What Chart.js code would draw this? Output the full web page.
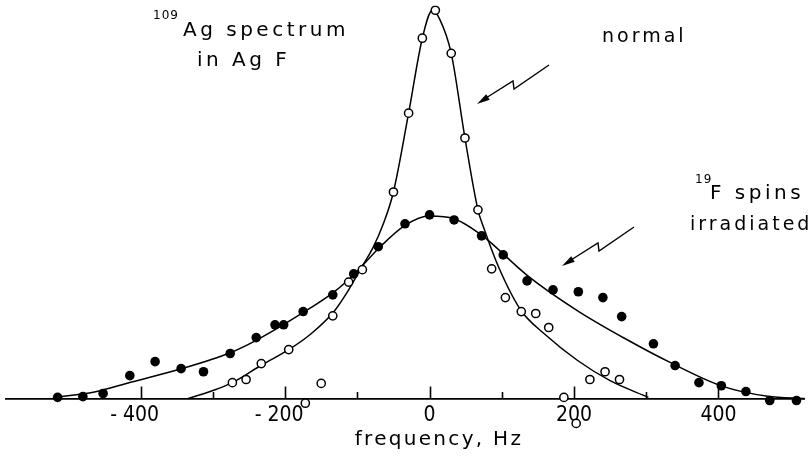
<!DOCTYPE html>
<html>
<head>
<meta charset="utf-8">
<script src="https://cdn.jsdelivr.net/npm/chart.js@4.4.1/dist/chart.umd.min.js"></script>
<style>
  html, body { margin: 0; padding: 0; background: #fff; }
  canvas { display: block; }
</style>
</head>
<body>
<canvas id="spectrum" width="810" height="462"></canvas>
<script>
// values: frequency in Hz, intensity scaled so the normal peak is ~100
const normalPointsHz = [-273, -254, -233, -195, -172, -150, -134, -112, -93, -50, -29, -10, 8, 30, 49, 67, 86, 105, 127, 147, 165, 186, 203, 222, 243, 263];
const normalPointsY  = [4.1, 4.9, 9.0, 12.6, -1.2, 3.9, 21.3, 30.0, 33.2, 53.2, 73.5, 92.8, 100, 88.9, 67.1, 48.6, 33.4, 26.0, 22.4, 21.9, 18.3, 0.3, -6.4, 4.9, 6.9, 4.9];

const irradPointsHz = [-515, -480, -452, -415, -380, -344, -313, -276, -240, -214, -202, -175, -134, -105, -71, -34, 0, 34, 72, 102, 135, 171, 206, 240, 266, 310, 340, 373, 404, 438, 471, 508];
const irradPointsY  = [0.3, 0.5, 1.3, 5.9, 9.5, 7.7, 6.9, 11.6, 15.7, 19.0, 19.0, 22.4, 26.7, 32.1, 39.1, 45.0, 47.3, 46.0, 41.9, 37.0, 30.3, 28.0, 27.5, 26.0, 21.1, 14.1, 8.5, 4.1, 3.3, 1.8, -0.5, -0.5];

// the drawn (fitted) curves
const normalCurveHz = [-334, -295, -273, -232, -195, -164, -132, -112, -92, -79, -64, -50, -29, -10, 4, 14, 30, 49, 67, 75, 96, 127, 160, 205, 250, 303];
const normalCurveY  = [0, 2.4, 4.1, 8.7, 12.6, 16.7, 22.5, 28.0, 34.5, 38.6, 45.0, 53.2, 73.5, 92.8, 100, 97.7, 88.9, 67.1, 48.6, 44.0, 33.7, 22.6, 16.5, 9.8, 4.6, 0.3];

const irradCurveHz = [-519, -464, -414, -345, -276, -242, -178, -134, -105, -71, -34, 0, 34, 70, 82, 136, 205, 273, 333, 405, 468, 520];
const irradCurveY  = [0.3, 1.7, 4.2, 7.6, 11.8, 14.8, 21.8, 27.2, 31.9, 38.6, 44.6, 47.0, 46.3, 42.4, 40.6, 31.6, 22.6, 15.2, 9.3, 3.2, 0.6, 0];

const majorTicks = [-400, -200, 0, 200, 400];
const tickLabels = ['- 400  ', '- 200  ', '0', '200', '400'];
const minorTicks = [-300, -100, 100, 300];

function pairs(xs, ys) {
  return xs.map((x, i) => ({ x: x, y: ys[i] }));
}

function bolt(ctx, tx, ty) {
  // lightning arrow, tip at (tx, ty)
  ctx.beginPath();
  ctx.moveTo(tx + 72, ty - 39);
  ctx.lineTo(tx + 37, ty - 15);
  ctx.lineTo(tx + 36, ty - 23);
  ctx.lineTo(tx + 9, ty - 6);
  ctx.stroke();
  const dx = -36, dy = 23, len = Math.hypot(dx, dy);
  const ux = dx / len, uy = dy / len;
  const bx = tx - ux * 13, by = ty - uy * 13;
  ctx.beginPath();
  ctx.moveTo(tx, ty);
  ctx.lineTo(bx - uy * 3.3, by + ux * 3.3);
  ctx.lineTo(bx + uy * 3.3, by - ux * 3.3);
  ctx.closePath();
  ctx.fill();
}

const decorations = {
  id: 'decorations',
  afterDraw(chart) {
    const ctx = chart.ctx;
    const xs = chart.scales.x;
    const y0 = chart.scales.y.getPixelForValue(0);
    ctx.save();
    ctx.strokeStyle = '#000';
    ctx.fillStyle = '#000';
    ctx.lineWidth = 1.6;
    majorTicks.forEach(v => {
      const px = Math.round(xs.getPixelForValue(v)) + 0.5;
      ctx.beginPath(); ctx.moveTo(px, y0); ctx.lineTo(px, y0 - 12); ctx.stroke();
    });
    minorTicks.forEach(v => {
      const px = Math.round(xs.getPixelForValue(v)) + 0.5;
      ctx.beginPath(); ctx.moveTo(px, y0); ctx.lineTo(px, y0 - 6.5); ctx.stroke();
    });

    ctx.lineWidth = 1.4;
    bolt(ctx, 477, 104);
    bolt(ctx, 562, 266);

    ctx.textAlign = 'left';
    ctx.textBaseline = 'alphabetic';
    ctx.letterSpacing = '1px';
    ctx.font = '12px "DejaVu Sans"';
    ctx.fillText('109', 153, 19);
    ctx.fillText('19', 695, 183);

    ctx.letterSpacing = '3.5px';
    ctx.font = '20px "DejaVu Sans"';
    ctx.fillText('Ag spectrum', 183, 36);
    ctx.fillText('in Ag F', 197, 66);
    ctx.fillText('F spins', 710, 199);
    ctx.letterSpacing = '3px';
    ctx.font = '19px "DejaVu Sans"';
    ctx.fillText('normal', 602, 42);
    ctx.fillText('irradiated', 690, 230);

    ctx.letterSpacing = '2.3px';
    ctx.font = '20px "DejaVu Sans"';
    ctx.textAlign = 'center';
    ctx.fillText('frequency, Hz', 439, 445);
    ctx.restore();
  }
};

new Chart(document.getElementById('spectrum'), {
  type: 'scatter',
  data: {
    datasets: [
      {
        label: 'normal',
        data: pairs(normalPointsHz, normalPointsY),
        pointRadius: 4.1,
        pointBackgroundColor: '#fff',
        pointBorderColor: '#000',
        pointBorderWidth: 1.5
      },
      {
        label: '19F spins irradiated',
        data: pairs(irradPointsHz, irradPointsY),
        pointRadius: 4.8,
        pointBackgroundColor: '#000',
        pointBorderColor: '#000',
        pointBorderWidth: 0
      },
      {
        label: 'normal fit',
        data: pairs(normalCurveHz, normalCurveY),
        showLine: true,
        pointRadius: 0,
        borderColor: '#000',
        borderWidth: 1.5,
        cubicInterpolationMode: 'monotone'
      },
      {
        label: 'irradiated fit',
        data: pairs(irradCurveHz, irradCurveY),
        showLine: true,
        pointRadius: 0,
        borderColor: '#000',
        borderWidth: 1.5,
        cubicInterpolationMode: 'monotone'
      }
    ]
  },
  options: {
    responsive: false,
    animation: false,
    devicePixelRatio: 1,
    layout: { padding: 0 },
    plugins: {
      legend: { display: false },
      tooltip: { enabled: false }
    },
    scales: {
      x: {
        type: 'linear',
        min: -587,
        max: 519,
        position: { y: 0 },
        afterBuildTicks: scale => {
          scale.ticks = majorTicks.map(v => ({ value: v }));
        },
        grid: { display: false, drawTicks: false, tickLength: 0 },
        border: { display: true, color: '#000', width: 1.8 },
        ticks: {
          color: '#000',
          padding: 4,
          maxRotation: 0,
          autoSkip: false,
          font: { family: '"Liberation Sans Narrow", "DejaVu Sans Condensed", sans-serif', size: 21 },
          callback: (value) => tickLabels[majorTicks.indexOf(value)]
        }
      },
      y: {
        display: false,
        min: -14.9,
        max: 101.2
      }
    }
  },
  plugins: [decorations]
});
</script>
</body>
</html>
